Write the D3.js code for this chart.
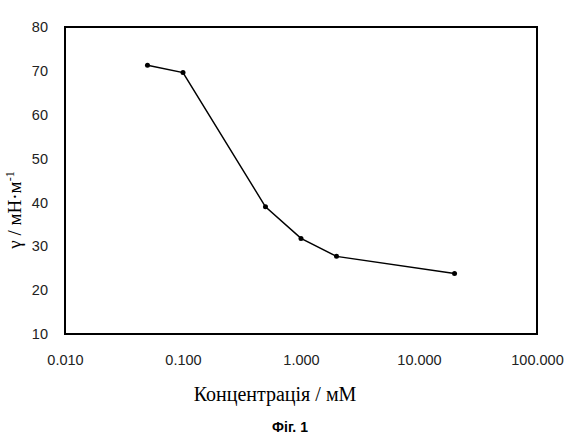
<!DOCTYPE html>
<html>
<head>
<meta charset="utf-8">
<script src="https://cdn.jsdelivr.net/npm/d3@7/dist/d3.min.js"></script>
<style>
  body { margin: 0; background: #fff; }
  svg { display: block; }
  .tick text { font-family: "Liberation Sans", Arial, sans-serif; font-size: 14.5px; fill: #222; }
</style>
</head>
<body>
<svg width="581" height="447"></svg>
<script>
// concentration, mM
const concentration = [0.05, 0.1, 0.5, 1, 2, 20]
// surface tension, mN/m
const tension = [71.3, 69.6, 39.0, 31.8, 27.7, 23.8]
const xTicks = [0.01, 0.1, 1, 10, 100]
const yTicks = [10, 20, 30, 40, 50, 60, 70, 80]

const margin = {top: 27, right: 44, bottom: 113, left: 65}
const width = 581
const height = 447

const svg = d3.select('svg')

const xScale = d3.scaleLog()
  .domain([0.01, 100])
  .range([margin.left, width - margin.right])

const yScale = d3.scaleLinear()
  .domain([10, 80])
  .range([height - margin.bottom, margin.top])

// x axis labels (no tick marks)
svg.append('g')
  .attr('transform', 'translate(0,' + (height - margin.bottom) + ')')
  .call(d3.axisBottom(xScale)
    .tickValues(xTicks)
    .tickFormat(d3.format('.3f'))
    .tickSize(0)
    .tickPadding(21))
  .call(g => g.select('.domain').remove())

// y axis labels
svg.append('g')
  .attr('transform', 'translate(' + margin.left + ',0)')
  .call(d3.axisLeft(yScale)
    .tickValues(yTicks)
    .tickSize(0)
    .tickPadding(17))
  .call(g => g.select('.domain').remove())

// frame
svg.append('rect')
  .attr('x', margin.left)
  .attr('y', margin.top)
  .attr('width', width - margin.left - margin.right)
  .attr('height', height - margin.top - margin.bottom)
  .attr('fill', 'none')
  .attr('stroke', '#000')
  .attr('stroke-width', 2)

const data = concentration.map((c, i) => ({c, v: tension[i]}))

const line = d3.line()
  .x(d => xScale(d.c))
  .y(d => yScale(d.v))

svg.append('path')
  .datum(data)
  .attr('d', line)
  .attr('fill', 'none')
  .attr('stroke', '#000')
  .attr('stroke-width', 1.5)

svg.selectAll('.pt')
  .data(data)
  .enter().append('circle')
    .attr('class', 'pt')
    .attr('cx', d => xScale(d.c))
    .attr('cy', d => yScale(d.v))
    .attr('r', 2.5)
    .attr('fill', '#000')

// axis titles
svg.append('text')
  .attr('x', 275)
  .attr('y', 401)
  .attr('text-anchor', 'middle')
  .style('font-family', '"Liberation Serif", "Times New Roman", serif')
  .style('font-size', '20px')
  .text('Концентрація / мМ')

const yTitle = svg.append('text')
  .attr('transform', 'translate(21,210) rotate(-90)')
  .attr('text-anchor', 'middle')
  .style('font-family', '"Liberation Serif", "Times New Roman", serif')
  .style('font-size', '19px')
yTitle.append('tspan').text('γ / мН·м')
yTitle.append('tspan').attr('dy', -7).style('font-size', '12px').text('-1')

svg.append('text')
  .attr('x', 290)
  .attr('y', 432)
  .attr('text-anchor', 'middle')
  .style('font-family', '"Liberation Sans", Arial, sans-serif')
  .style('font-size', '14px')
  .style('font-weight', 'bold')
  .text('Фіг. 1')
</script>
</body>
</html>
